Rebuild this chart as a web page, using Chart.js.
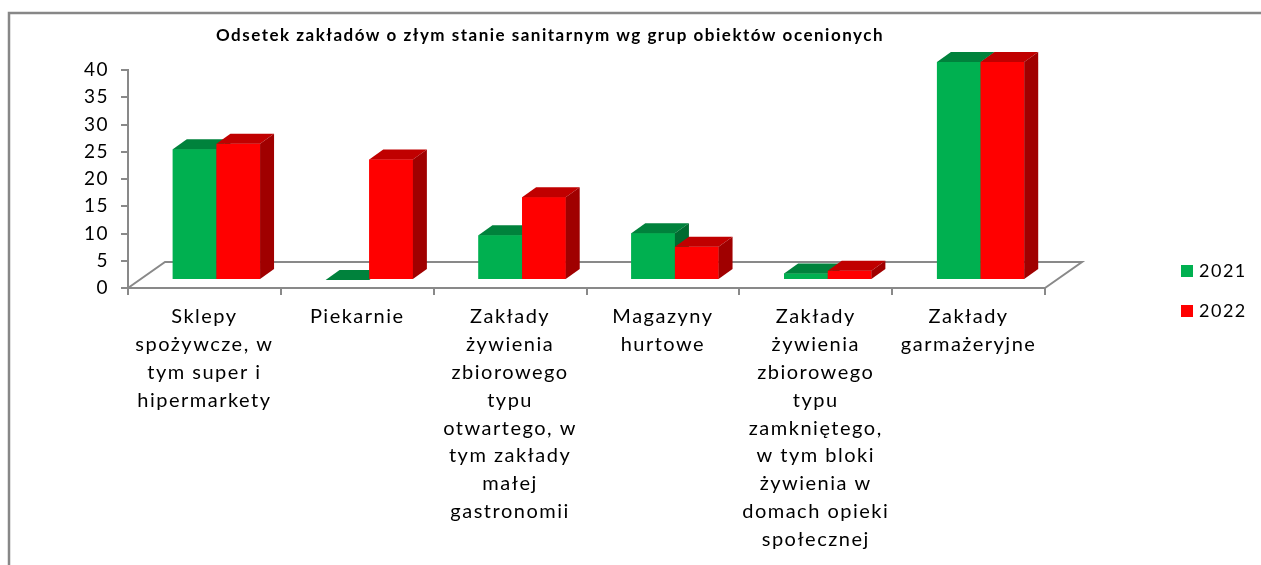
<!DOCTYPE html>
<html lang="pl">
<head>
<meta charset="utf-8">
<title>Odsetek zakładów o złym stanie sanitarnym</title>
<script src="https://cdn.jsdelivr.net/npm/chart.js@4.4.1/dist/chart.umd.min.js"></script>
<style>
  html, body { margin: 0; padding: 0; background: #fff; }
  #wrap { width: 1261px; height: 565px; }
</style>
</head>
<body>
<div id="wrap"><canvas id="sanChart" width="1261" height="565"></canvas></div>
<script>
const chartTitle = 'Odsetek zakładów o złym stanie sanitarnym wg grup obiektów ocenionych';
const categories = [
    ['Sklepy', 'spożywcze, w', 'tym super i', 'hipermarkety'],
    ['Piekarnie'],
    ['Zakłady', 'żywienia', 'zbiorowego', 'typu', 'otwartego, w', 'tym zakłady', 'małej', 'gastronomii'],
    ['Magazyny', 'hurtowe'],
    ['Zakłady', 'żywienia', 'zbiorowego', 'typu', 'zamkniętego,', 'w tym bloki', 'żywienia w', 'domach opieki', 'społecznej'],
    ['Zakłady', 'garmażeryjne'],
];
const seriesNames = ['2021', '2022'];
const values2021 = [24.0, 0, 8.2, 8.6, 1.2, 40];
const values2022 = [25.0, 22.1, 15.2, 6.1, 1.7, 40];
const yMin = 0;
const yMax = 40;
const yStep = 5;

const frontColors = ['#00B050', '#FF0000'];
const topColors = ['#00823C', '#C00000'];
const sideColors = ['#006B30', '#A00000'];
const lineGray = '#898989';

// fake 3d: floor depth, where the bars stand, bar depth
const floorDx = 37, floorDy = 26;
const barShiftX = 12, barShiftY = 8;
const barDx = 14, barDy = 10;

// excel text looks a bit spread out
const axisSpacing = '1.5px';

function drawBox(ctx, p, i) {
    const l = p.x - p.width / 2, r = p.x + p.width / 2;
    ctx.fillStyle = frontColors[i];
    ctx.fillRect(l, p.y, p.width, p.base - p.y);
    ctx.fillStyle = topColors[i];
    ctx.beginPath();
    ctx.moveTo(l, p.y);
    ctx.lineTo(l + barDx, p.y - barDy);
    ctx.lineTo(r + barDx, p.y - barDy);
    ctx.lineTo(r, p.y);
    ctx.closePath();
    ctx.fill();
    ctx.fillStyle = sideColors[i];
    ctx.beginPath();
    ctx.moveTo(r, p.y);
    ctx.lineTo(r + barDx, p.y - barDy);
    ctx.lineTo(r + barDx, p.base - barDy);
    ctx.lineTo(r, p.base);
    ctx.closePath();
    ctx.fill();
}

const fake3d = {
    id: 'fake3d',
    beforeLayout(chart) {
        chart.ctx.letterSpacing = axisSpacing;
    },
    beforeDraw(chart) {
        const ctx = chart.ctx;
        ctx.save();
        ctx.fillStyle = '#fff';
        ctx.fillRect(0, 0, chart.width, chart.height);
        ctx.strokeStyle = '#878787';
        ctx.lineWidth = 2.5;
        ctx.beginPath();
        ctx.moveTo(9, chart.height);
        ctx.lineTo(9, 13);
        ctx.lineTo(chart.width, 13);
        ctx.stroke();
        ctx.restore();
        ctx.letterSpacing = axisSpacing;
    },
    beforeDatasetsDraw(chart) {
        const ctx = chart.ctx;
        const a = chart.chartArea;
        ctx.save();
        ctx.strokeStyle = lineGray;
        ctx.lineWidth = 2;
        ctx.beginPath();
        ctx.moveTo(a.left, a.bottom);
        ctx.lineTo(a.left + floorDx, a.bottom - floorDy);
        ctx.lineTo(a.right + floorDx, a.bottom - floorDy);
        ctx.lineTo(a.right, a.bottom);
        ctx.stroke();
        ctx.restore();
        ctx.save();
        ctx.translate(barShiftX, -barShiftY);
    },
    afterDatasetsDraw(chart) {
        const ctx = chart.ctx;
        // paint per category, 2021 then 2022, so the faces overlap right
        categories.forEach((c, k) => {
            seriesNames.forEach((s, i) => {
                const bar = chart.getDatasetMeta(i).data[k];
                drawBox(ctx, bar.getProps(['x', 'y', 'base', 'width'], true), i);
            });
        });
        ctx.restore();
    },
    afterDraw(chart) {
        const ctx = chart.ctx;
        ctx.save();
        ctx.fillStyle = '#000';
        ctx.font = 'bold 17px Lato';
        ctx.letterSpacing = '1.5px';
        ctx.textAlign = 'center';
        ctx.textBaseline = 'middle';
        ctx.fillText(chartTitle, 550, 36);

        ctx.font = '18px Lato';
        ctx.letterSpacing = '1.5px';
        ctx.textAlign = 'left';
        seriesNames.forEach((s, i) => {
            const y = 271 + i * 40;
            ctx.fillStyle = frontColors[i];
            ctx.fillRect(1181, y - 6, 12, 12);
            ctx.fillStyle = '#000';
            ctx.fillText(s, 1199, y);
        });
        ctx.restore();
    }
};

Chart.defaults.font.family = 'Lato';
Chart.defaults.color = '#000';

let ctx = document.getElementById('sanChart').getContext('2d');
let sanChart = new Chart(ctx, {
    type: 'bar',
    data: {
        labels: categories,
        datasets: [
            {
                label: seriesNames[0],
                data: values2021,
                backgroundColor: frontColors[0],
                borderWidth: 0,
                clip: false,
            },
            {
                label: seriesNames[1],
                data: values2022,
                backgroundColor: frontColors[1],
                borderWidth: 0,
                clip: false,
            },
        ],
    },
    options: {
        responsive: false,
        animation: false,
        devicePixelRatio: 1,
        categoryPercentage: 0.571,
        barPercentage: 1,
        layout: {
            padding: { top: 70, right: 216, bottom: 0, left: 0 },
        },
        plugins: {
            legend: { display: false },
            title: { display: false },
            tooltip: { enabled: false },
        },
        scales: {
            x: {
                grid: { drawOnChartArea: false, offset: true, tickLength: 7, color: lineGray, lineWidth: 2 },
                border: { display: true, color: lineGray, width: 2 },
                ticks: {
                    autoSkip: false,
                    maxRotation: 0,
                    minRotation: 0,
                    padding: 8,
                    font: { size: 20, lineHeight: 1.39 },
                },
                afterFit(scale) { scale.height = 565 - 288; },
            },
            y: {
                min: yMin,
                max: yMax,
                ticks: { stepSize: yStep, padding: 12, font: { size: 19 } },
                grid: { drawOnChartArea: false, tickLength: 7, color: lineGray, lineWidth: 2 },
                border: { display: true, color: lineGray, width: 2 },
                afterFit(scale) { scale.width = 128; },
            },
        },
    },
    plugins: [fake3d],
});
</script>
</body>
</html>
